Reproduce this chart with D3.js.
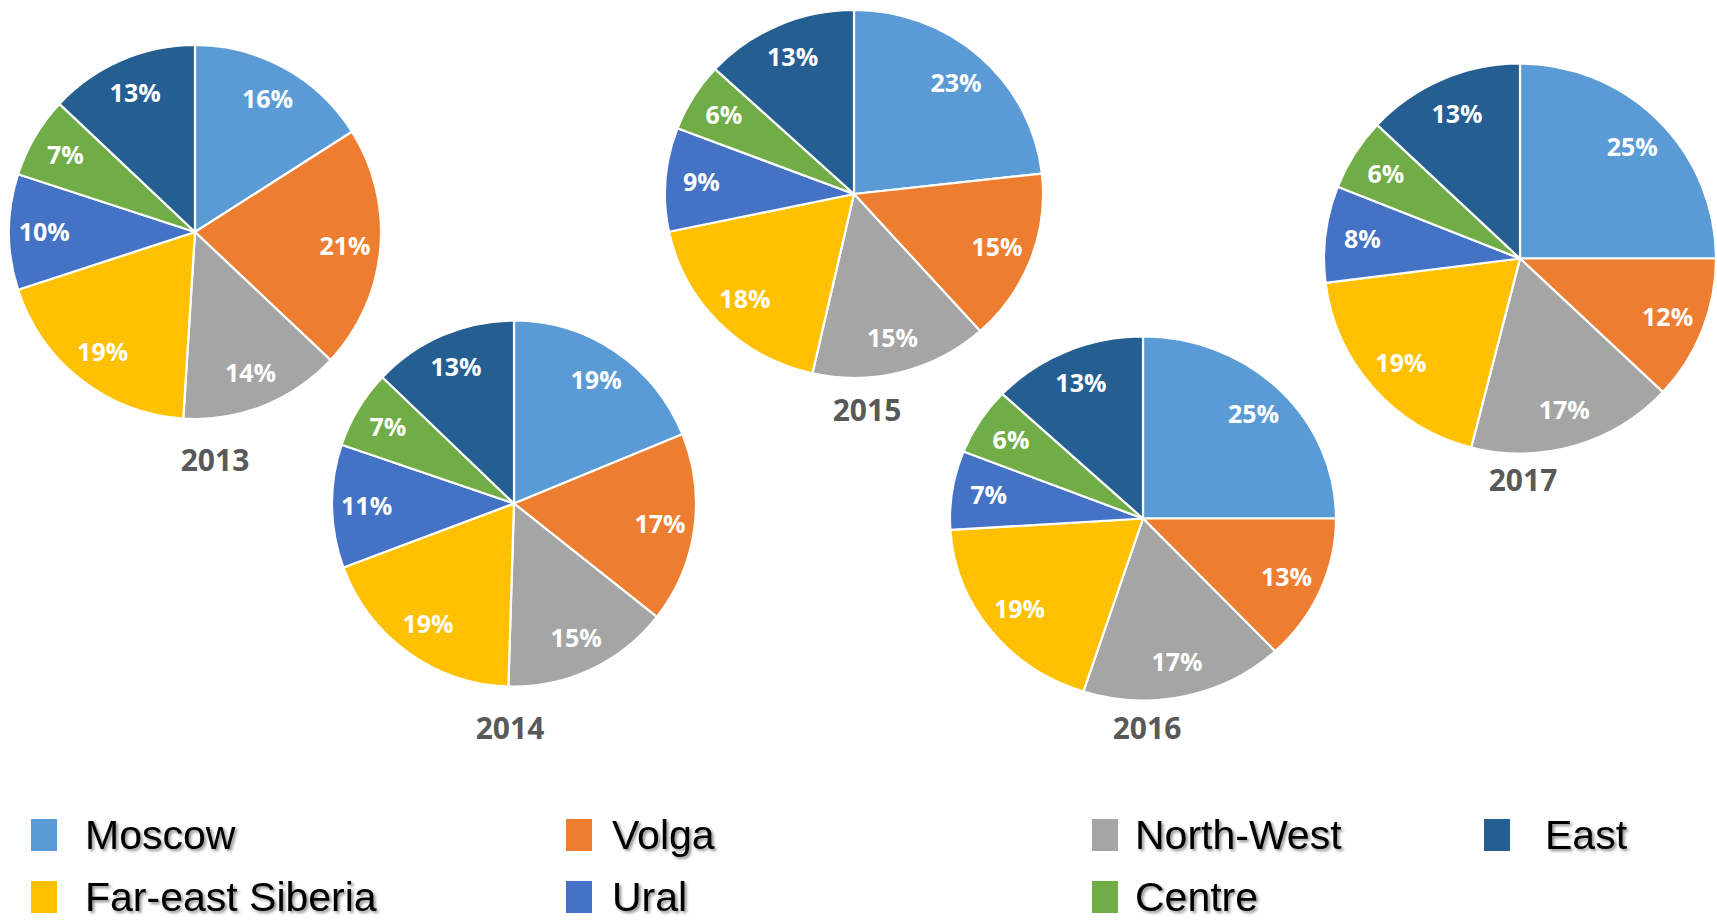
<!DOCTYPE html>
<html>
<head>
<meta charset="utf-8">
<script src="https://cdn.jsdelivr.net/npm/d3@7"></script>
<style>
  html, body { margin: 0; padding: 0; background: #fff; }
  svg { display: block; }
  .slice-label { font-family: "Open Sans", sans-serif; font-weight: 700; font-size: 25px; fill: #fff; }
  .year-label { font-family: "Open Sans", sans-serif; font-weight: 700; font-size: 30px; fill: #595959; }
  .legend-text { font-family: "Liberation Sans", Arial, sans-serif; font-size: 41px; fill: #000;
                 filter: drop-shadow(2px 2px 1.5px rgba(0,0,0,0.45)); }
</style>
</head>
<body>
<div id="chart"></div>
<script>
// --------------------------------------
//  Data
// --------------------------------------

const regions = ["Moscow", "Volga", "North-West", "Far-east Siberia", "Ural", "Centre", "East"];
const years = ["2013", "2014", "2015", "2016", "2017"];

const share2013 = [16, 21, 14, 19, 10, 7, 13];
const share2014 = [19, 17, 15, 19, 11, 7, 13];
const share2015 = [23, 15, 15, 18, 9, 6, 13];
const share2016 = [25, 13, 17, 19, 7, 6, 13];
const share2017 = [25, 12, 17, 19, 8, 6, 13];
const shares = [share2013, share2014, share2015, share2016, share2017];

const colors = ["#5B9BD5", "#ED7D31", "#A5A5A5", "#FFC000", "#4472C4", "#70AD47", "#255E91"];

// --------------------------------------
//  Layout (pixel placement of each pie)
// --------------------------------------

const width = 1717;
const height = 920;

// centre, horizontal / vertical radius, year label offset
const pieLayout = [
  {cx: 195,  cy: 232,   rx: 186, ry: 187, lx: 20, ly: 228},
  {cx: 514,  cy: 503.5, rx: 182, ry: 183, lx: -4, ly: 224.5},
  {cx: 854,  cy: 194,   rx: 189, ry: 184, lx: 13, ly: 216},
  {cx: 1143, cy: 518.5, rx: 193, ry: 182, lx: 4,  ly: 210},
  {cx: 1520, cy: 258.5, rx: 196, ry: 195, lx: 3,  ly: 221.5}
];

// legend grid: region index -> [column, row]
const legendCols = [
  {sx: 31,   tx: 85},
  {sx: 566,  tx: 612},
  {sx: 1092, tx: 1135},
  {sx: 1484, tx: 1545}
];
const legendRows = [849, 911];
const legendSlots = [[0, 0], [1, 0], [2, 0], [0, 1], [1, 1], [2, 1], [3, 0]];

const svg = d3.select("#chart")
  .append("svg")
    .attr("width", width)
    .attr("height", height)
    .attr("viewBox", `0, 0, ${width}, ${height}`);

// --------------------------------------
//  Pies
// --------------------------------------

const pie = d3.pie()
  .sort(null)
  .value(d => d);

const arc = d3.arc()
  .innerRadius(0)
  .outerRadius(1);

const labelArc = d3.arc()
  .innerRadius(0.81)
  .outerRadius(0.81);

years.forEach((year, i) => {
  const L = pieLayout[i];
  const arcs = pie(shares[i]);

  const g = svg.append("g")
    .attr("transform", `translate(${L.cx}, ${L.cy})`);

  g.append("g")
    .attr("transform", `scale(${L.rx}, ${L.ry})`)
    .selectAll("path")
    .data(arcs)
    .join("path")
      .attr("d", arc)
      .attr("fill", (d, j) => colors[j])
      .attr("stroke", "#fff")
      .attr("stroke-width", 2.2)
      .attr("vector-effect", "non-scaling-stroke")
      .attr("stroke-linejoin", "round");

  g.append("g")
    .selectAll("text")
    .data(arcs)
    .join("text")
      .attr("class", "slice-label")
      .attr("x", d => labelArc.centroid(d)[0] * L.rx)
      .attr("y", d => labelArc.centroid(d)[1] * L.ry)
      .attr("dy", "0.36em")
      .attr("text-anchor", "middle")
      .text(d => `${d.data}%`);

  g.append("text")
    .attr("class", "year-label")
    .attr("x", L.lx)
    .attr("y", L.ly)
    .attr("dy", "0.36em")
    .attr("text-anchor", "middle")
    .text(year);
});

// --------------------------------------
//  Legend
// --------------------------------------

const legend = svg.append("g")
  .selectAll("g")
  .data(regions)
  .join("g")
    .attr("transform", (d, i) => `translate(0, ${legendRows[legendSlots[i][1]]})`);

legend.append("rect")
  .attr("x", (d, i) => legendCols[legendSlots[i][0]].sx)
  .attr("y", -30)
  .attr("width", 26)
  .attr("height", 32)
  .attr("fill", (d, i) => colors[i]);

legend.append("text")
  .attr("class", "legend-text")
  .attr("x", (d, i) => legendCols[legendSlots[i][0]].tx)
  .attr("y", 0)
  .text(d => d);
</script>
</body>
</html>
